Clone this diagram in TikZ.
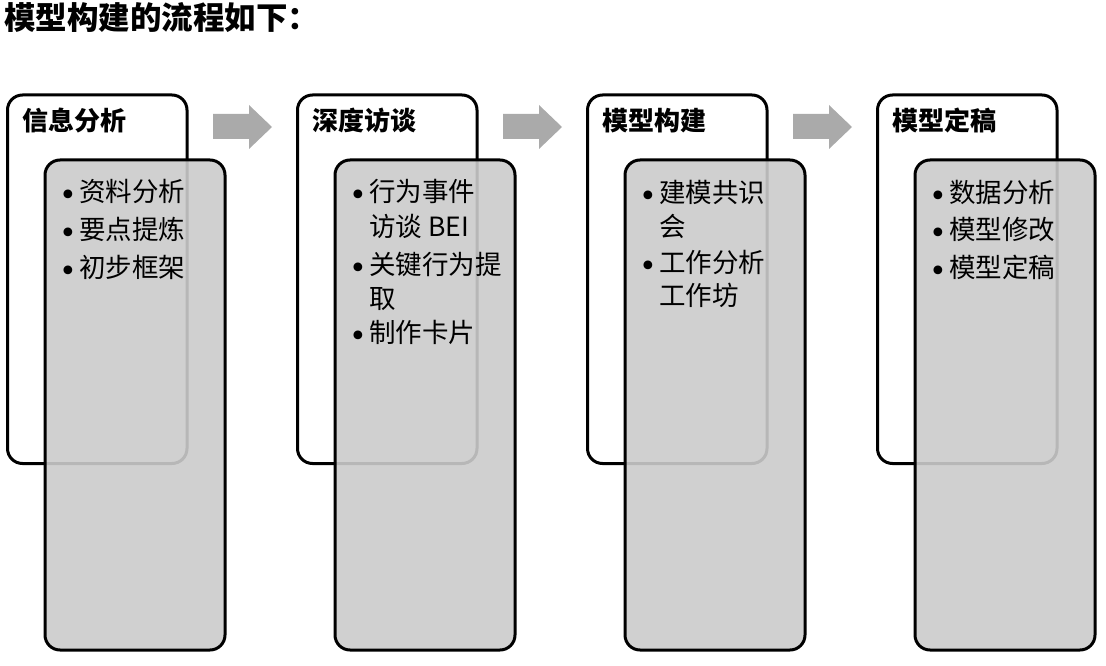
\documentclass[tikz,border=0pt]{standalone}
\usepackage{fontspec}
\setmainfont{Noto Sans CJK SC}
\newfontfamily\bulletfont{DejaVu Sans}
\usetikzlibrary{positioning}
\definecolor{boxgray}{RGB}{203,203,203}
\definecolor{arrowgray}{RGB}{170,170,170}
\tikzset{
  wbox/.style={draw=black, line width=3pt, fill=white, rounded corners=15pt, rectangle, inner sep=0pt},
  gbox/.style={draw=black, line width=3pt, fill=boxgray, fill opacity=0.9, draw opacity=1, rounded corners=15pt, rectangle, inner sep=0pt},
  head/.style={anchor=west, inner sep=0pt, font=\fontsize{26}{30}\selectfont\bfseries, text height=0.88em, text depth=0.12em},
  item/.style={anchor=west, inner sep=0pt, font=\fontsize{26.5}{30}\selectfont, text height=0.88em, text depth=0.12em},
  bulletmark/.style={anchor=center, inner sep=0pt, font=\bulletfont\fontsize{30}{30}\selectfont},
  flowarrow/.style={fill=arrowgray, draw=none},
}
\newcommand{\stagebox}[3]{%
  \node[wbox, minimum width=179.5pt, minimum height=368.5pt] (w#1) at (#2+97.25, 279.25) {};
  \node[head] (h#1) at (#2+22, 127) {#3};
  \node[gbox, minimum width=180pt, minimum height=490pt] (g#1) at (#2+135, 405) {};
}
\newcommand{\flowarr}[2]{%
  \fill[flowarrow] (#2+213,114) -- (#2+249,114) -- (#2+249,105) -- (#2+272,127) -- (#2+249,149) -- (#2+249,139) -- (#2+213,139) -- cycle;
}
\newcommand{\bul}[3]{\node[bulletmark] (b#1) at (#2+68, #3+1) {•};}
\newcommand{\txt}[4]{\node[item] (t#1) at (#2+79, #3+1) {#4};}
\begin{document}
\begin{tikzpicture}[x=1pt, y=-1pt]
\useasboundingbox (0,0) rectangle (1106,666);
\node[anchor=west, inner sep=0pt, font=\fontsize{31.5}{34}\selectfont\bfseries, text height=0.88em, text depth=0.12em] (title) at (4, 26) {模型构建的流程如下：};

\flowarr{1}{0}
\flowarr{2}{290}
\flowarr{3}{580}

\stagebox{1}{0}{信息分析}
\stagebox{2}{290}{深度访谈}
\stagebox{3}{580}{模型构建}
\stagebox{4}{870}{模型定稿}

% stage 1
\bul{11}{0}{197} \txt{11}{0}{197}{资料分析}
\bul{12}{0}{235} \txt{12}{0}{235}{要点提炼}
\bul{13}{0}{273} \txt{13}{0}{273}{初步框架}
% stage 2
\bul{21}{290}{197} \txt{21}{290}{197}{行为事件}
\txt{21b}{290}{232}{访谈 BEI}
\bul{22}{290}{270} \txt{22}{290}{270}{关键行为提}
\txt{22b}{290}{304}{取}
\bul{23}{290}{338} \txt{23}{290}{338}{制作卡片}
% stage 3
\bul{31}{580}{198} \txt{31}{580}{198}{建模共识}
\txt{31b}{580}{232}{会}
\bul{32}{580}{268} \txt{32}{580}{268}{工作分析}
\txt{32b}{580}{301}{工作坊}
% stage 4
\bul{41}{870}{198} \txt{41}{870}{198}{数据分析}
\bul{42}{870}{235} \txt{42}{870}{235}{模型修改}
\bul{43}{870}{273} \txt{43}{870}{273}{模型定稿}
\end{tikzpicture}
\end{document}
